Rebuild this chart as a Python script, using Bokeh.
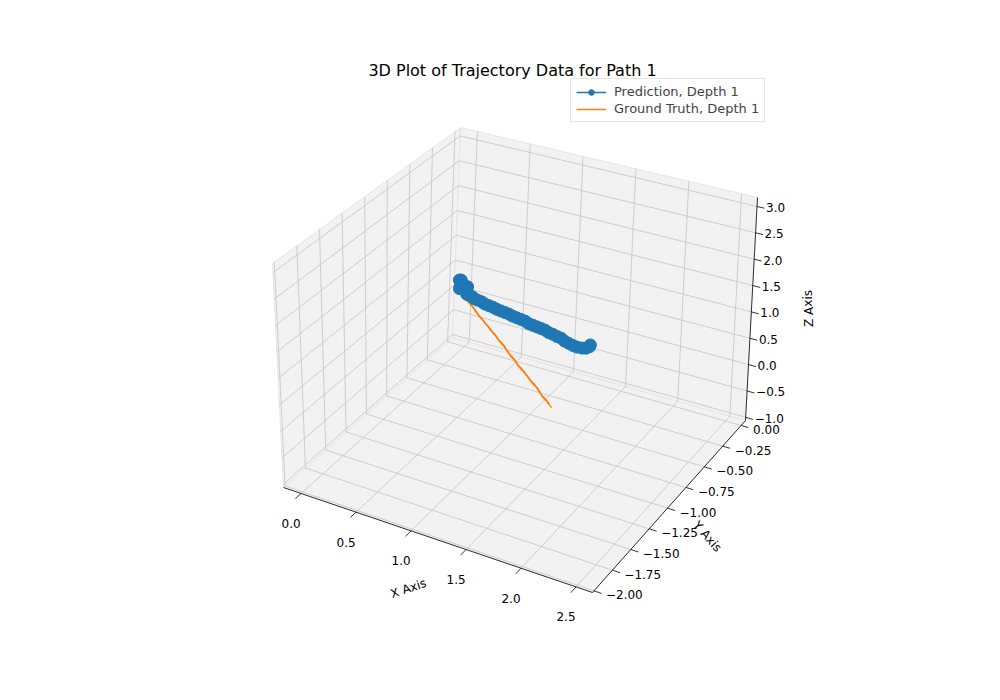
from bokeh.plotting import figure
from bokeh.models import Range1d, Legend, LegendItem
from bokeh.core.properties import value
from bokeh.embed import file_html
from bokeh.resources import INLINE

title = "3D Plot of Trajectory Data for Path 1"
pred_x = [-0.10,-0.09,-0.07,-0.06,-0.05,-0.04,-0.03,-0.02,-0.01,0.0,0.01,0.02,0.04,0.07,0.10,0.13,0.17,0.21,0.25,0.29,0.33,0.37,0.41,0.45,0.49,0.53,0.57,0.61,0.65,0.69,0.73,0.77,0.81,0.85,0.89,0.93,0.97,1.01,1.05,1.09,1.13,1.17,1.20,1.22,1.22]
pred_y = [0.04,0.05,0.03,0.0,-0.02,0.0,0.03,0.04,0.01,0.0,-0.01,-0.02,
          -0.02,-0.02,-0.03,-0.03,-0.03,-0.04,-0.04,-0.04,-0.05,-0.05,-0.05,-0.05,-0.06,-0.06,-0.06,-0.06,-0.07,-0.07,-0.07,-0.07,
          -0.07,-0.08,-0.08,-0.08,-0.08,-0.09,-0.09,-0.09,-0.09,-0.08,-0.07,-0.05,-0.04]
pred_z = [0.16,0.15,0.13,0.11,0.10,0.09,0.08,0.07,0.06,0.05,0.04,0.03,
          0.02,0.01,0.0,-0.01,-0.02,-0.03,-0.04,-0.05,-0.05,-0.06,-0.07,-0.08,-0.08,-0.09,-0.10,-0.11,-0.12,-0.13,-0.14,-0.15,
          -0.16,-0.17,-0.18,-0.20,-0.21,-0.23,-0.25,-0.27,-0.28,-0.29,-0.29,-0.28,-0.26]
gt_x = [0.00,0.04,0.08,0.12,0.16,0.20,0.24,0.28,0.33,0.37,0.41,0.45,0.49,0.53,0.57,0.61,0.65,0.69,0.73,0.77,0.81,0.85,0.90,0.94,0.98,1.02,1.06,1.10,1.14,1.18]
gt_y = [0.00,-0.02,-0.03,-0.05,-0.07,-0.09,-0.10,-0.12,-0.14,-0.16,-0.17,-0.19,-0.21,-0.22,-0.24,-0.26,-0.28,-0.29,-0.31,-0.33,-0.34,-0.36,-0.38,-0.40,-0.41,-0.43,-0.45,-0.47,-0.48,-0.50]
gt_z = [-0.10,-0.12,-0.15,-0.17,-0.19,-0.21,-0.24,-0.26,-0.28,-0.30,-0.33,-0.35,-0.37,-0.39,-0.42,-0.44,-0.46,-0.48,-0.51,-0.53,-0.55,-0.57,-0.60,-0.62,-0.64,-0.66,-0.69,-0.71,-0.73,-0.76]
x_ticks = [0.0, 0.5, 1.0, 1.5, 2.0, 2.5]
y_ticks = [-2.0, -1.75, -1.5, -1.25, -1.0, -0.75, -0.5, -0.25, 0.0]
z_ticks = [-1.0, -0.5, 0.0, 0.5, 1.0, 1.5, 2.0, 2.5, 3.0]
XL, YL, ZL = (-0.16, 2.65), (-2.02, 0.06), (-1.06, 3.17)

C = {(0,0,0): (283,487), (0,1,0): (452,337), (0,0,1): (272,263), (0,1,1): (460,127),
     (1,1,0): (745,420), (1,1,1): (757,197), (1,0,0): (592,592), (1,0,1): (586,352)}

def proj(x, y, z):
    u = (x-XL[0])/(XL[1]-XL[0]); v = (y-YL[0])/(YL[1]-YL[0]); w = (z-ZL[0])/(ZL[1]-ZL[0])
    px = py = 0.0
    for i in (0,1):
        for j in (0,1):
            for k in (0,1):
                wt = (u if i else 1-u)*(v if j else 1-v)*(w if k else 1-w)
                px += wt*C[(i,j,k)][0]; py += wt*C[(i,j,k)][1]
    return px, py

def pl(xs, ys, zs):
    pts = [proj(a,b,c) for a,b,c in zip(xs,ys,zs)]
    return [q[0] for q in pts], [q[1] for q in pts]

p = figure(width=984, height=684, output_backend="svg", toolbar_location=None,
           x_range=Range1d(0, 984), y_range=Range1d(684, 0), min_border=0)
p.axis.visible = False; p.grid.visible = False; p.outline_line_color = None

x0, x1 = XL; y0, y1 = YL; z0, z1 = ZL
panes = [([x0,x1,x1,x0],[y0,y0,y1,y1],[z0]*4), ([x0]*4,[y0,y1,y1,y0],[z0,z0,z1,z1]), ([x0,x1,x1,x0],[y1]*4,[z0,z0,z1,z1])]
for xs, ys, zs in panes:
    a, b = pl(xs, ys, zs)
    p.patch(a, b, fill_color="#f2f2f2", line_color="#e6e6e6", line_width=1)

gc = "#c4c4c4"
for t in x_ticks:
    a,b = pl([t,t,t],[y0,y1,y1],[z0,z0,z1]); p.line(a,b,line_color=gc,line_width=0.8)
for t in y_ticks:
    a,b = pl([x1,x0,x0],[t,t,t],[z0,z0,z1]); p.line(a,b,line_color=gc,line_width=0.8)
for t in z_ticks:
    a,b = pl([x0,x0,x1],[y0,y1,y1],[t,t,t]); p.line(a,b,line_color=gc,line_width=0.8)

for xs,ys,zs in [([x0,x1],[y0,y0],[z0,z0]), ([x1,x1],[y0,y1],[z0,z0]), ([x1,x1],[y1,y1],[z0,z1])]:
    a,b = pl(xs,ys,zs); p.line(a,b,line_color="black",line_width=0.8)

f = {"text_font": value("DejaVu Sans"), "text_font_size": "12px", "text_color": "black"}
for t in x_ticks:
    a,b = pl([t,t],[y0,y0-0.07],[z0,z0]); p.line(a,b,line_color="black",line_width=0.8)
    sx, sy = proj(t, y0, z0)
    p.text([sx-10],[sy+30],text=[f"{t:.1f}"],text_align="center",text_baseline="middle",**f)
for t in y_ticks:
    a,b = pl([x1,x1+0.07],[t,t],[z0,z0]); p.line(a,b,line_color="black",line_width=0.8)
    sx, sy = proj(x1, t, z0)
    p.text([sx+12],[sy+4],text=[f"{t:.2f}".replace("-","\u2212")],text_align="left",text_baseline="middle",**f)
for t in z_ticks:
    a,b = pl([x1,x1+0.07],[y1,y1],[t,t]); p.line(a,b,line_color="black",line_width=0.8)
    sx, sy = proj(x1, y1, t)
    p.text([sx+9],[sy+1],text=[f"{t:.1f}".replace("-","\u2212")],text_align="left",text_baseline="middle",**f)

p.text([408],[588],text=["X Axis"],angle=0.33,text_align="center",text_baseline="middle",**f)
p.text([707],[536],text=["Y Axis"],angle=-0.85,text_align="center",text_baseline="middle",**f)
p.text([808],[308],text=["Z Axis"],angle=1.5708,text_align="center",text_baseline="middle",**f)
p.text([512],[70],text=[title],text_align="center",text_baseline="middle",
       text_font=value("DejaVu Sans"),text_font_size="16px",text_color="black")

a,b = pl(gt_x, gt_y, gt_z)
gl = p.line(a,b,line_color="#ff7f0e",line_width=1.5)
p.scatter(a,b,marker="dash",size=9,angle=-0.9,line_color="#ff7f0e",line_width=1.2)
a,b = pl(pred_x, pred_y, pred_z)
pline = p.line(a,b,line_color="#1f77b4",line_width=1.5)
pm = p.scatter(a,b,marker="circle",size=12,fill_color="#1f77b4",line_color="#1f77b4")

leg = Legend(items=[LegendItem(label="Prediction, Depth 1", renderers=[pline, pm]),
                    LegendItem(label="Ground Truth, Depth 1", renderers=[gl])],
             location=(570, 562), label_text_font="DejaVu Sans", label_text_font_size="13px",
             glyph_width=30, glyph_height=14, spacing=2, padding=5, label_standoff=8,
             border_line_color="#cccccc", background_fill_alpha=0.8)
p.add_layout(leg, "center")

open("out.html","w").write(file_html(p, INLINE))
